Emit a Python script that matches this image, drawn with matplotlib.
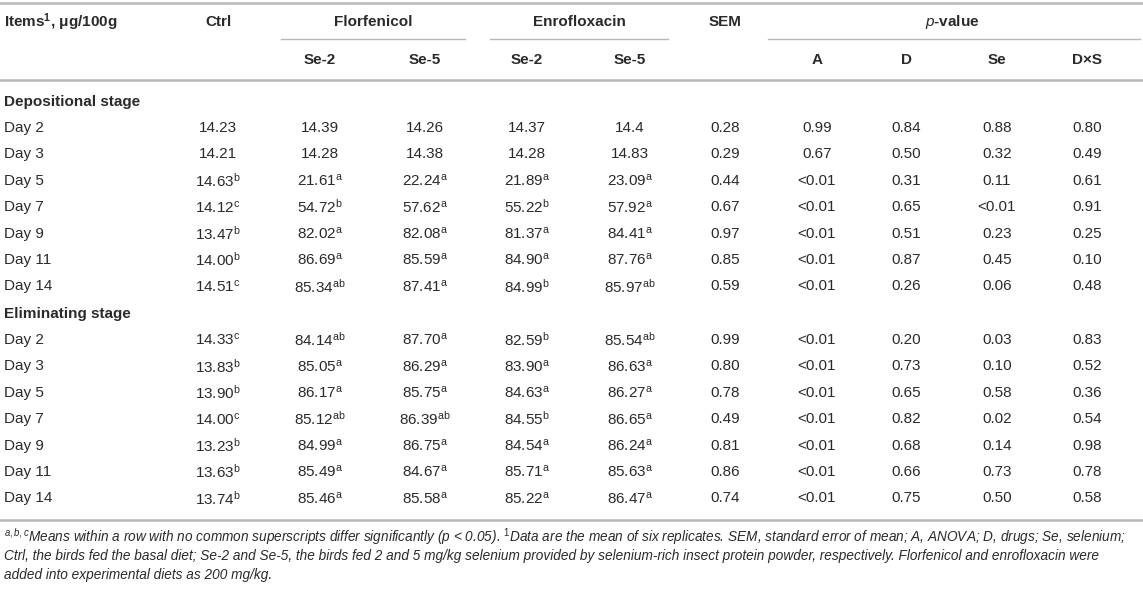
import matplotlib
matplotlib.use("Agg")
import matplotlib.pyplot as plt
from matplotlib import font_manager

names = {f.name for f in font_manager.fontManager.ttflist}
narrow = 'Liberation Sans Narrow' if 'Liberation Sans Narrow' in names else 'Liberation Sans'

plt.rcParams['font.family'] = ['Liberation Sans', 'DejaVu Sans']
plt.rcParams['mathtext.fontset'] = 'custom'
plt.rcParams['mathtext.rm'] = 'Liberation Sans'
plt.rcParams['mathtext.it'] = 'Liberation Sans:italic'
plt.rcParams['mathtext.bf'] = 'Liberation Sans:bold'

# ---- table data ----
days = ["Day 2", "Day 3", "Day 5", "Day 7", "Day 9", "Day 11", "Day 14"]

dep_ctrl = ["14.23", "14.21", "14.63^b", "14.12^c", "13.47^b", "14.00^b", "14.51^c"]
dep_flo2 = ["14.39", "14.28", "21.61^a", "54.72^b", "82.02^a", "86.69^a", "85.34^ab"]
dep_flo5 = ["14.26", "14.38", "22.24^a", "57.62^a", "82.08^a", "85.59^a", "87.41^a"]
dep_enr2 = ["14.37", "14.28", "21.89^a", "55.22^b", "81.37^a", "84.90^a", "84.99^b"]
dep_enr5 = ["14.4", "14.83", "23.09^a", "57.92^a", "84.41^a", "87.76^a", "85.97^ab"]
dep_sem = ["0.28", "0.29", "0.44", "0.67", "0.97", "0.85", "0.59"]
dep_pA = ["0.99", "0.67", "<0.01", "<0.01", "<0.01", "<0.01", "<0.01"]
dep_pD = ["0.84", "0.50", "0.31", "0.65", "0.51", "0.87", "0.26"]
dep_pSe = ["0.88", "0.32", "0.11", "<0.01", "0.23", "0.45", "0.06"]
dep_pDS = ["0.80", "0.49", "0.61", "0.91", "0.25", "0.10", "0.48"]

eli_ctrl = ["14.33^c", "13.83^b", "13.90^b", "14.00^c", "13.23^b", "13.63^b", "13.74^b"]
eli_flo2 = ["84.14^ab", "85.05^a", "86.17^a", "85.12^ab", "84.99^a", "85.49^a", "85.46^a"]
eli_flo5 = ["87.70^a", "86.29^a", "85.75^a", "86.39^ab", "86.75^a", "84.67^a", "85.58^a"]
eli_enr2 = ["82.59^b", "83.90^a", "84.63^a", "84.55^b", "84.54^a", "85.71^a", "85.22^a"]
eli_enr5 = ["85.54^ab", "86.63^a", "86.27^a", "86.65^a", "86.24^a", "85.63^a", "86.47^a"]
eli_sem = ["0.99", "0.80", "0.78", "0.49", "0.81", "0.86", "0.74"]
eli_pA = ["<0.01"] * 7
eli_pD = ["0.20", "0.73", "0.65", "0.82", "0.68", "0.66", "0.75"]
eli_pSe = ["0.03", "0.10", "0.58", "0.02", "0.14", "0.73", "0.50"]
eli_pDS = ["0.83", "0.52", "0.36", "0.54", "0.98", "0.78", "0.58"]

footnote = [
    r"$^{\mathit{a,b,c}}$Means within a row with no common superscripts differ significantly (p < 0.05). $^{\mathit{1}}$Data are the mean of six replicates. SEM, standard error of mean; A, ANOVA; D, drugs; Se, selenium;",
    "Ctrl, the birds fed the basal diet; Se-2 and Se-5, the birds fed 2 and 5 mg/kg selenium provided by selenium-rich insect protein powder, respectively. Florfenicol and enrofloxacin were",
    "added into experimental diets as 200 mg/kg.",
]

# column centres (pixels)
col_x = [218, 320, 425, 527, 630, 725, 817, 906, 997, 1087]

W, H = 1143, 591
fig = plt.figure(figsize=(W / 100, H / 100), dpi=100)
ax = fig.add_axes([0, 0, 1, 1])
ax.set_xlim(0, W)
ax.set_ylim(H, 0)
ax.axis('off')

txt_col = '#2a2a2a'
line_col = '#b8b8b8'
fs = 11
left = 4


def cell(x, y, s):
    if '^' in s:
        base, sup = s.split('^')
        s = base + r'$^{\mathrm{' + sup + '}}$'
    ax.text(x, y, s, ha='center', va='center', fontsize=fs, color=txt_col)


# rules
ax.plot([0, W], [3, 3], color=line_col, lw=1.8)
ax.plot([0, W], [80, 80], color=line_col, lw=1.8)
ax.plot([0, W], [520, 520], color=line_col, lw=1.8)
ax.plot([281, 465], [39, 39], color=line_col, lw=1.0)
ax.plot([490, 668], [39, 39], color=line_col, lw=1.0)
ax.plot([768, 1140], [39, 39], color=line_col, lw=1.0)

# header
ax.text(left, 22, r'Items$^{\mathbf{1}}$, μg/100g', ha='left', va='center', fontsize=fs, fontweight='bold', color=txt_col)
hdr1 = [(col_x[0], 'Ctrl'), (373, 'Florfenicol'), (579, 'Enrofloxacin'), (col_x[5], 'SEM')]
for x, s in hdr1:
    ax.text(x, 22, s, ha='center', va='center', fontsize=fs, fontweight='bold', color=txt_col)
ax.text(952, 22, r'$\mathbf{\mathit{p}}$-value', ha='center', va='center', fontsize=fs, fontweight='bold', color=txt_col)
hdr2 = ['Se-2', 'Se-5', 'Se-2', 'Se-5', '', 'A', 'D', 'Se', 'D×S']
for x, s in zip(col_x[1:], hdr2):
    ax.text(x, 60, s, ha='center', va='center', fontsize=fs, fontweight='bold', color=txt_col)

# body
blocks = [
    ('Depositional stage', 102, 128,
     [dep_ctrl, dep_flo2, dep_flo5, dep_enr2, dep_enr5, dep_sem, dep_pA, dep_pD, dep_pSe, dep_pDS]),
    ('Eliminating stage', 314, 340,
     [eli_ctrl, eli_flo2, eli_flo5, eli_enr2, eli_enr5, eli_sem, eli_pA, eli_pD, eli_pSe, eli_pDS]),
]
row_h = 26.4
for title, ty, y0, cols in blocks:
    ax.text(left, ty, title, ha='left', va='center', fontsize=fs, fontweight='bold', color=txt_col)
    for i, d in enumerate(days):
        y = y0 + i * row_h
        ax.text(left, y, d, ha='left', va='center', fontsize=fs, color=txt_col)
        for x, vals in zip(col_x, cols):
            cell(x, y, vals[i])

# footnote, sized so the first line spans the table width
fig.canvas.draw()
rend = fig.canvas.get_renderer()
probe = ax.text(left, 536, footnote[0], ha='left', va='center', fontsize=10, style='italic', family=narrow)
w = probe.get_window_extent(rend).width
probe.remove()
ffs = 10 * (1124 / w)
for i, line in enumerate(footnote):
    ax.text(left, 537 + i * 19, line, ha='left', va='center', fontsize=ffs, style='italic',
            family=narrow, color=txt_col)

fig.savefig('out.png', dpi=100)
